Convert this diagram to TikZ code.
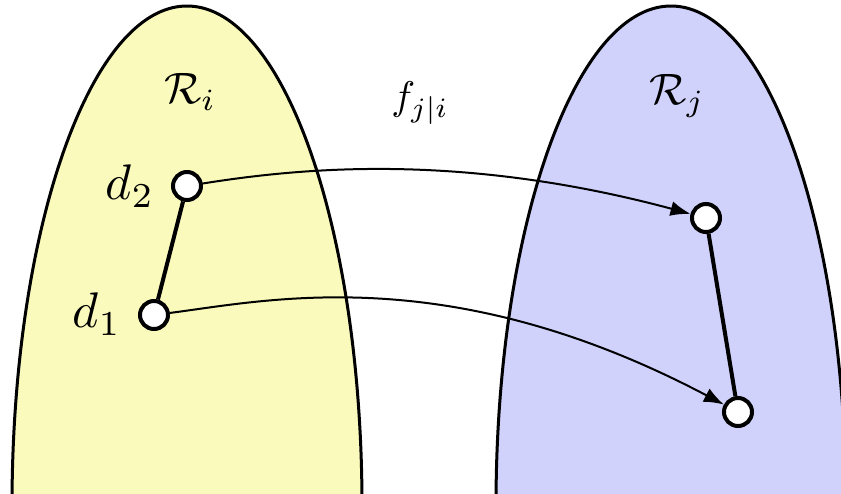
\documentclass[tikz,border=0pt]{standalone}
\usepackage{graphicx}
\usetikzlibrary{arrows.meta}
\definecolor{regY}{RGB}{250,250,188}
\definecolor{regB}{RGB}{208,210,252}
\begin{document}
\begin{tikzpicture}[x=1pt,y=-1pt,
  region/.style={line width=3pt,draw=black},
  pt/.style={circle,draw=black,fill=white,line width=4pt,minimum size=28pt,inner sep=0pt},
  link/.style={line width=4pt},
  map/.style={line width=2pt,-{Latex[length=20pt,width=15pt]}},
  lbl/.style={inner sep=0pt}]
\useasboundingbox (0,0) rectangle (841,493);
\clip (0,0) rectangle (841,493);
\draw[region,fill=regY] (187,506) ellipse [x radius=175pt, y radius=500pt];
\draw[region,fill=regB] (671,506) ellipse [x radius=175pt, y radius=500pt];
\node[lbl] (Ri) at (190,92) {\scalebox{4.4}{$\mathcal{R}_i$}};
\node[lbl] (Rj) at (677,96) {\scalebox{4.4}{$\mathcal{R}_j$}};
\node[lbl] (f) at (420,103) {\scalebox{4.0}{$f_{j|i}$}};
\node[pt] (d2) at (187,186) {};
\node[pt] (d1) at (154,315) {};
\node[pt] (r2) at (706,218) {};
\node[pt] (r1) at (738,412) {};
\node[lbl] (l2) at (130,186) {\scalebox{5.0}{$d_2$}};
\node[lbl] (l1) at (97,314) {\scalebox{5.0}{$d_1$}};
\draw[link] (d2) -- (d1);
\draw[link] (r2) -- (r1);
\draw[map] (d2) .. controls (300,168) and (460,152) .. (r2);
\draw[map] (d1) .. controls (270,300) and (450,260) .. (r1);
\end{tikzpicture}
\end{document}
